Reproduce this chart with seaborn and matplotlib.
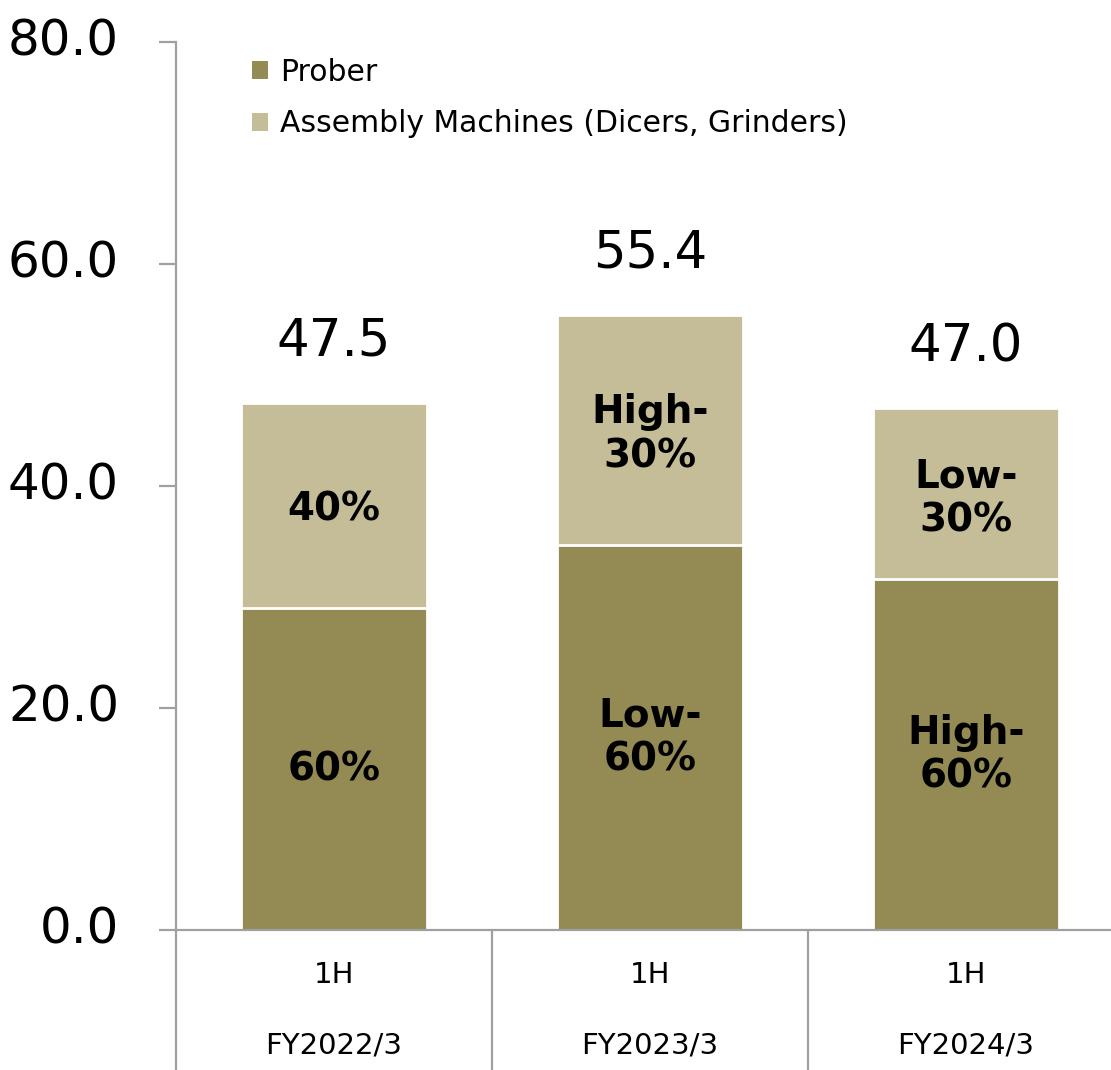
import pandas as pd
import matplotlib
matplotlib.use("Agg")
import matplotlib.pyplot as plt
import matplotlib.transforms as mtransforms
from matplotlib.patches import Patch
import seaborn as sns

# -----------------------------------------------------------------------------
# Data
# -----------------------------------------------------------------------------
periods = ["FY2022/3", "FY2023/3", "FY2024/3"]
halves = ["1H", "1H", "1H"]
totals = [47.5, 55.4, 47.0]
prober = [29.0, 34.7, 31.6]
prober_labels = ["60%", "Low-\n60%", "High-\n60%"]
assembly_labels = ["40%", "High-\n30%", "Low-\n30%"]
series_names = ["Prober", "Assembly Machines (Dicers, Grinders)"]
yticks = [0, 20, 40, 60, 80]

PROBER_COLOR = "#948a54"
ASSEMBLY_COLOR = "#c4bd97"
AXIS_GRAY = "#a0a0a0"

df = pd.DataFrame({"period": periods, "total": totals, "prober": prober})

sns.set_style("white")
plt.rcParams["font.family"] = ["DejaVu Sans"]

fig = plt.figure(figsize=(11.11, 10.70), dpi=100)
ax = fig.add_axes([0.1584, 0.1308, 0.8416, 0.8299])

# Stacked bars : total (assembly colour) then prober on top of it
sns.barplot(data=df, x="period", y="total", color=ASSEMBLY_COLOR, width=0.59,
            edgecolor="white", linewidth=2, saturation=1, ax=ax)
sns.barplot(data=df, x="period", y="prober", color=PROBER_COLOR, width=0.59,
            edgecolor="white", linewidth=2, saturation=1, ax=ax)

ax.set_xlim(-0.5, 2.459)
ax.set_ylim(0, 80)
ax.set_yticks(yticks)
ax.set_yticklabels([f"{v:.1f}" for v in yticks])
ax.set_xticks([])
ax.set_xlabel("")
ax.set_ylabel("")

for side in ["top", "right"]:
    ax.spines[side].set_visible(False)
for side in ["left", "bottom"]:
    ax.spines[side].set_color(AXIS_GRAY)
    ax.spines[side].set_linewidth(1.6)

ax.tick_params(axis="y", left=True, direction="out", length=12, width=1.6,
               color=AXIS_GRAY, pad=29, labelsize=36, labelcolor="black")
# tick labels sit slightly above their ticks in the original
shift = mtransforms.ScaledTranslation(0, 6 / 100, fig.dpi_scale_trans)
for lbl in ax.get_yticklabels():
    lbl.set_transform(lbl.get_transform() + shift)

# Totals above bars
for i, t in enumerate(totals):
    ax.annotate(f"{t:.1f}", (i, t), xytext=(0, 34), textcoords="offset points",
                ha="center", va="baseline", fontsize=37, color="black")

# Percent labels in the segments
for i in range(len(periods)):
    ax.text(i, prober[i] / 2, prober_labels[i], ha="center", va="center",
            fontsize=28, fontweight="bold", linespacing=1.2, color="black")
    ax.text(i, (prober[i] + totals[i]) / 2 - 0.4, assembly_labels[i],
            ha="center", va="center", fontsize=28, fontweight="bold",
            linespacing=1.2, color="black")

# Category table below the axis
trans = mtransforms.blended_transform_factory(ax.transData, ax.transAxes)
for x in [-0.5, 0.5, 1.5]:
    ax.plot([x, x], [0, -0.16], transform=trans, color=AXIS_GRAY,
            linewidth=1.6, clip_on=False)
for i in range(len(periods)):
    ax.text(i, -0.0507, halves[i], transform=trans, ha="center", va="center",
            fontsize=21, color="black")
    ax.text(i, -0.1295, periods[i], transform=trans, ha="center", va="center",
            fontsize=21, color="black")

# Legend
handles = [Patch(facecolor=PROBER_COLOR, edgecolor="none"),
           Patch(facecolor=ASSEMBLY_COLOR, edgecolor="none")]
leg = ax.legend(handles, series_names, loc="upper left",
                bbox_to_anchor=(252 / 1111, 1 - 58 / 1070),
                bbox_transform=fig.transFigure, frameon=False, fontsize=21.5,
                handlelength=0.55, handleheight=0.55, handletextpad=0.4,
                labelspacing=0.75, borderpad=0, borderaxespad=0)
for txt in leg.get_texts():
    txt.set_color("black")

fig.savefig("out.png", dpi=100)
